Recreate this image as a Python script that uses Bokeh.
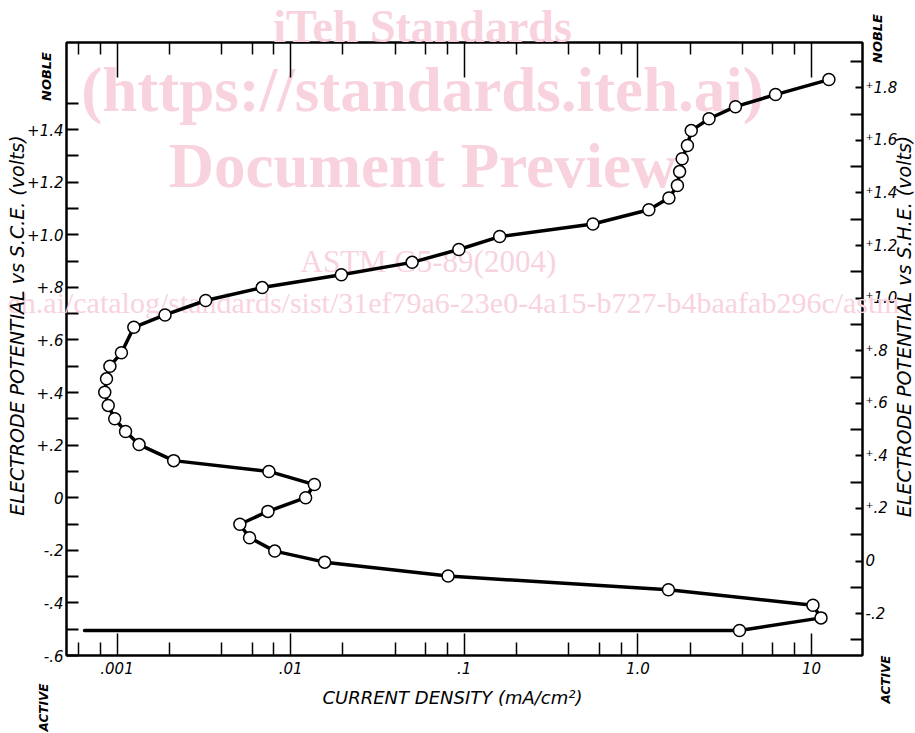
import math
from bokeh.plotting import figure
from bokeh.models import Range1d, LogAxis, LinearAxis, FixedTicker, CustomJSTickFormatter, Label
from bokeh.core.properties import value
from bokeh.embed import file_html
from bokeh.resources import INLINE

# ---------------- data ----------------
# anodic polarization sweep: current density (mA/cm^2) and potential (V vs S.C.E.)
current_density = [0.00065, 3.85, 11.35, 10.2, 1.50, 0.0807, 0.0157, 0.0081, 0.0058, 0.0051,
                   0.0074, 0.0122, 0.0137, 0.0075, 0.00212, 0.00134, 0.00112, 0.00097, 0.00089,
                   0.00085, 0.00087, 0.00091, 0.00106, 0.00125, 0.00189, 0.00324, 0.00686, 0.0196,
                   0.0501, 0.0931, 0.160, 0.551, 1.157, 1.51, 1.69, 1.74, 1.80, 1.93, 2.03, 2.57,
                   3.65, 6.21, 12.6]
potential_sce = [-0.505, -0.505, -0.457, -0.409, -0.350, -0.298, -0.245, -0.203, -0.152, -0.101,
                 -0.052, 0.000, 0.050, 0.100, 0.141, 0.202, 0.252, 0.300, 0.351,
                 0.401, 0.452, 0.500, 0.551, 0.648, 0.695, 0.750, 0.799, 0.848,
                 0.895, 0.944, 0.993, 1.041, 1.095, 1.140, 1.187, 1.240, 1.289, 1.339, 1.396, 1.441,
                 1.487, 1.533, 1.590]
# the first point only starts the line; the rest are measured points (circles)
point_i = current_density[1:]
point_v = potential_sce[1:]

x_major = [0.001, 0.01, 0.1, 1.0, 10.0]
x_labels = [".001", ".01", ".1", "1.0", "10"]
x_minor = [0.0006, 0.0008, 0.002, 0.004, 0.006, 0.008, 0.02, 0.04, 0.06, 0.08,
           0.2, 0.4, 0.6, 0.8, 2.0, 4.0, 6.0, 8.0]

sce_major = [-0.6, -0.4, -0.2, 0.0, 0.2, 0.4, 0.6, 0.8, 1.0, 1.2, 1.4]
sce_labels = ["-.6", "-.4", "-.2", "0", "+.2", "+.4", "+.6", "+.8", "+1.0", "+1.2", "+1.4"]
sce_minor = [-0.5, -0.3, -0.1, 0.1, 0.3, 0.5, 0.7, 0.9, 1.1, 1.3, 1.5]

SCE_TO_SHE = 0.241
she_major = [-0.2, 0.0, 0.2, 0.4, 0.6, 0.8, 1.0, 1.2, 1.4, 1.6, 1.8]
she_labels = ["-.2", "0", "\u207a.2", "\u207a.4", "\u207a.6", "\u207a.8", "\u207a1.0",
              "\u207a1.2", "\u207a1.4", "\u207a1.6", "\u207a1.8"]
she_minor = [-0.3, -0.1, 0.1, 0.3, 0.5, 0.7, 0.9, 1.1, 1.3, 1.5, 1.7, 1.9]

# ---------------- layout ----------------
W, H = 915, 733
LX0, LX1 = -3.291, 1.294          # log10 of current-density range
Y0, Y1 = -0.6, 1.731              # S.C.E. potential range
FL, FR, FT, FB = 66, 862, 42, 655  # frame edges (px)

FONT = "DejaVu Sans"
SERIF = "Liberation Serif"
INK = "black"
PINK = "#f8d3de"

p = figure(width=W, height=H, x_axis_type="log",
           x_range=Range1d(10 ** LX0, 10 ** LX1), y_range=Range1d(Y0, Y1),
           output_backend="svg", toolbar_location=None,
           min_border_left=FL, min_border_right=W - FR,
           min_border_top=FT, min_border_bottom=H - FB,
           background_fill_color="white", border_fill_color="white")
p.grid.visible = False
p.outline_line_color = INK
p.outline_line_width = 2
p.extra_y_ranges = {"she": Range1d(Y0 + SCE_TO_SHE, Y1 + SCE_TO_SHE)}


def lookup(vals, labels):
    return CustomJSTickFormatter(args=dict(vals=vals, labels=labels), code="""
let best = 0;
for (let i = 1; i < vals.length; i++) {
  if (Math.abs(vals[i] - tick) < Math.abs(vals[best] - tick)) best = i;
}
return labels[best];
""")


def style(ax, major_len, minor_len, tick_w, standoff):
    ax.axis_line_color = INK
    ax.axis_line_width = 2
    ax.major_tick_in = major_len
    ax.major_tick_out = 0
    ax.minor_tick_in = minor_len
    ax.minor_tick_out = 0
    ax.major_tick_line_color = INK
    ax.minor_tick_line_color = INK
    ax.major_tick_line_width = tick_w
    ax.minor_tick_line_width = tick_w
    ax.major_label_text_font = FONT
    ax.major_label_text_font_style = "italic"
    ax.major_label_text_font_size = "15px"
    ax.major_label_text_color = INK
    ax.major_label_standoff = standoff


bottom = p.xaxis[0]
bottom.ticker = FixedTicker(ticks=x_major, minor_ticks=x_minor)
bottom.formatter = lookup(x_major, x_labels)
style(bottom, 22, 13, 1.5, 6)

left = p.yaxis[0]
left.ticker = FixedTicker(ticks=sce_major, minor_ticks=sce_minor)
left.formatter = lookup(sce_major, sce_labels)
style(left, 12, 12, 2, 3)

top = LogAxis(ticker=FixedTicker(ticks=x_major, minor_ticks=x_minor),
              formatter=CustomJSTickFormatter(code="return '';"))
style(top, 35, 12, 1.5, 0)
p.add_layout(top, "above")

right = LinearAxis(y_range_name="she", ticker=FixedTicker(ticks=she_major, minor_ticks=she_minor),
                   formatter=lookup(she_major, she_labels))
style(right, 7, 12, 2, 3)
p.add_layout(right, "right")


def at_x(px):
    return 10 ** (LX0 + (px - FL) / (FR - FL) * (LX1 - LX0))


def at_y(py):
    return Y0 + (FB - py) / (FB - FT) * (Y1 - Y0)


def mark(text, px, py, size, angle=0.0, style_="italic", font=FONT, color=INK, align="center"):
    """free text placed around the frame (drawn unclipped at overlay level)"""
    p.text(x=[at_x(px)], y=[at_y(py)], text=[text], angle=angle,
           text_font=value(font), text_font_size=value(f"{size}px"), text_font_style=value(style_),
           text_color=color, text_align=value(align), text_baseline=value("middle"), level="overlay")


def wm(text, px, py, size, style_, align="center"):
    """watermark of the source document, under the chart (inside the frame)"""
    p.add_layout(Label(x=at_x(px), y=at_y(py), text=text, text_font=SERIF,
                       text_font_size=f"{size}px", text_font_style=style_, text_color=PINK,
                       text_align=align, text_baseline="middle", level="underlay"))


# watermark of the source document
wm("(https://standards.iteh.ai)", 422, 89, 63, "bold")
wm("Document Preview", 422, 165, 63, "bold")
wm("ASTM G5-89(2004)", 300, 261, 31, "normal", align="left")
mark("iTeh Standards", 422, 26, 46, style_="bold", font=SERIF, color=PINK)
mark("eh.ai/catalog/standards/sist/31ef79a6-23e0-4a15-b727-b4baafab296c/astm",
     7, 302, 30, style_="normal", font=SERIF, color=PINK, align="left")

# curve and measured points (above the watermark)
p.line(current_density, potential_sce, line_color=INK, line_width=3.5, line_join="round",
       line_cap="round", level="overlay")
p.scatter(point_i, point_v, marker="circle", size=12, fill_color="white", line_color=INK,
          line_width=1.5, level="overlay")

# axis titles and side notes
mark("CURRENT DENSITY (mA/cm\u00b2)", 452, 697, 18)
mark("ELECTRODE POTENTIAL vs S.C.E. (volts)", 16, 325, 19, angle=math.pi / 2)
mark("ELECTRODE POTENTIAL vs S.H.E. (volts)", 903, 326, 19, angle=math.pi / 2)
mark("NOBLE", 46, 76, 13, angle=math.pi / 2, style_="bold italic")
mark("ACTIVE", 43, 707, 12, angle=math.pi / 2, style_="bold italic")
mark("NOBLE", 877, 38, 13, angle=math.pi / 2, style_="bold italic")
mark("ACTIVE", 885, 679, 12, angle=math.pi / 2, style_="bold italic")

open("out.html", "w").write(file_html(p, INLINE))
